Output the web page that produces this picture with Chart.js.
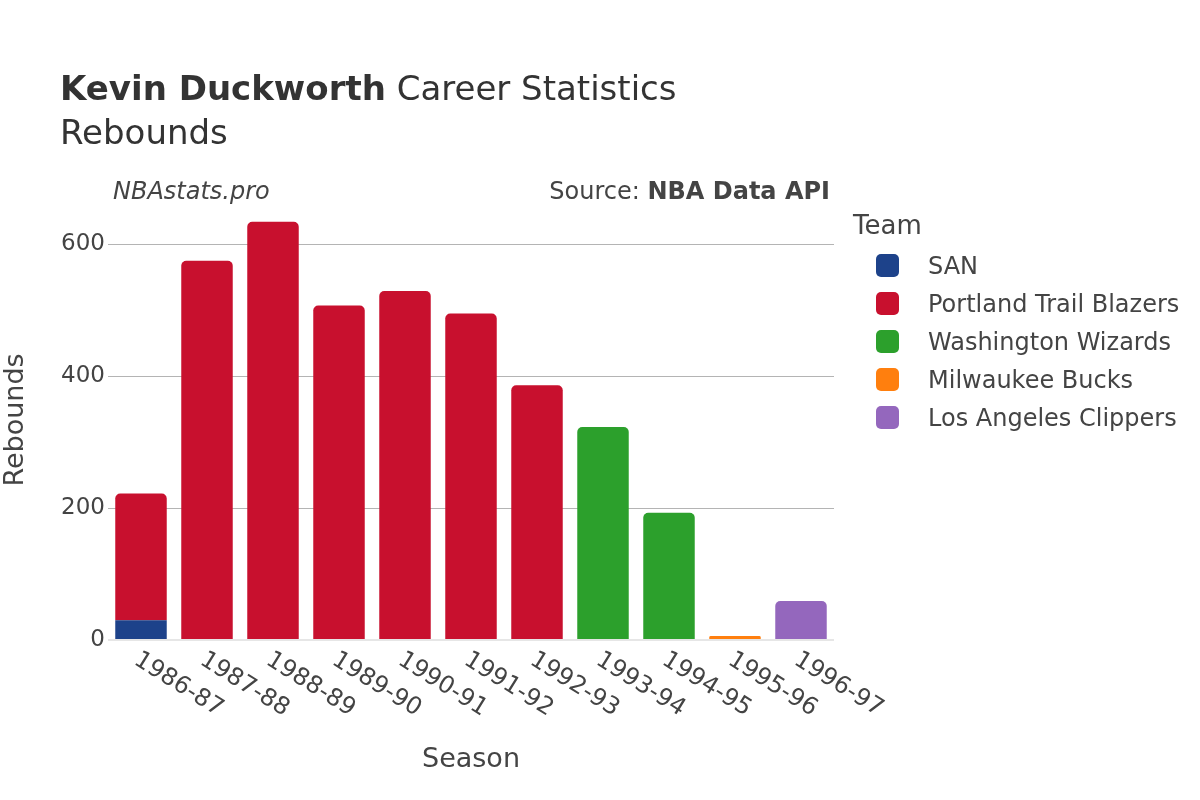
<!DOCTYPE html>
<html>
<head>
<meta charset="utf-8">
<script src="https://cdn.jsdelivr.net/npm/chart.js@4"></script>
<style>
  html, body { margin:0; padding:0; background:#fff; }
  body { width:1200px; height:800px; position:relative; overflow:hidden; font-family:"DejaVu Sans", sans-serif; color:#444; }
  #wrap { position:absolute; left:0; top:0; width:1200px; height:800px; }
  .txt { position:absolute; white-space:nowrap; line-height:1; }
  #title1 { left:60px; top:71px; font-size:34px; color:#333; }
  #title2 { left:60px; top:115px; font-size:34px; color:#333; }
  #brand { left:113px; top:179px; font-size:24px; font-style:italic; }
  #source { right:370px; top:179px; font-size:24px; }
  #legend { position:absolute; left:853px; top:210px; width:347px; white-space:nowrap; }
  #legend .ttl { font-size:26px; line-height:30px; margin-bottom:11px; color:#444; }
  #legend .item { position:relative; height:38px; }
  #legend .box { position:absolute; left:23px; top:3px; width:23px; height:23px; border-radius:5px; }
  #legend .lbl { position:absolute; left:75px; top:0; font-size:24px; line-height:30px; white-space:nowrap; }
</style>
</head>
<body>
<div id="wrap"><canvas id="chart" width="1200" height="800"></canvas></div>
<div class="txt" id="title1"><b>Kevin Duckworth</b> Career Statistics</div>
<div class="txt" id="title2">Rebounds</div>
<div class="txt" id="brand">NBAstats.pro</div>
<div class="txt" id="source">Source: <b>NBA Data API</b></div>
<div id="legend"></div>

<script>
'use strict';

/* ─── Data ──────────────────────────────────────────────────────── */
const seasons = ['1986-87','1987-88','1988-89','1989-90','1990-91','1991-92',
                 '1992-93','1993-94','1994-95','1995-96','1996-97'];

const teams      = ['SAN', 'Portland Trail Blazers', 'Washington Wizards', 'Milwaukee Bucks', 'Los Angeles Clippers'];
const teamColors = ['#1d428a', '#c8102e', '#2ca02c', '#ff7f0e', '#9467bd'];

const sanReb        = [30,  null, null, null, null, null, null, null, null, null, null];
const portlandReb   = [192, 575,  634,  507,  529,  495,  386,  null, null, null, null];
const washingtonReb = [null,null, null, null, null, null, null, 323,  193,  null, null];
const milwaukeeReb  = [null,null, null, null, null, null, null, null, null, 6,    null];
const clippersReb   = [null,null, null, null, null, null, null, null, null, null, 59];

const yTicks = [0, 200, 400, 600];
const yMax   = 667;

const series = [sanReb, portlandReb, washingtonReb, milwaukeeReb, clippersReb];

/* ─── Helpers ───────────────────────────────────────────────────── */
const FONT = '"DejaVu Sans", sans-serif';

// only the topmost segment of a stack gets rounded corners
function topRadius(ctx) {
  const i = ctx.dataIndex;
  for (let d = ctx.datasetIndex + 1; d < series.length; d++) {
    if (series[d][i] != null) return 0;
  }
  return 5;
}

/* angled season labels, text starting at the tick and running down-right */
const angledTicks = {
  id: 'angledTicks',
  afterDraw(chart) {
    const x = chart.scales.x, c = chart.ctx;
    c.save();
    c.font = '24px ' + FONT;
    c.fillStyle = '#444';
    c.textAlign = 'left';
    c.textBaseline = 'middle';
    seasons.forEach((s, i) => {
      const px = x.getPixelForValue(i);
      c.save();
      c.translate(px - 5, chart.chartArea.bottom + 18);
      c.rotate(32 * Math.PI / 180);
      c.fillText(s, 0, 0);
      c.restore();
    });
    c.restore();
  }
};

/* ─── Legend (HTML) ─────────────────────────────────────────────── */
(function buildLegend() {
  const lg = document.getElementById('legend');
  lg.innerHTML = '<div class="ttl">Team</div>' + teams.map((t, i) =>
    `<div class="item"><span class="box" style="background:${teamColors[i]}"></span><span class="lbl">${t}</span></div>`
  ).join('');
})();

/* ─── Chart ─────────────────────────────────────────────────────── */
new Chart(document.getElementById('chart'), {
  type: 'bar',
  data: {
    labels: seasons,
    datasets: teams.map((t, i) => ({
      label          : t,
      data           : series[i],
      backgroundColor: teamColors[i],
      borderRadius   : topRadius,
      borderSkipped  : 'start',
      barPercentage  : 0.78,
      categoryPercentage: 1.0,
    }))
  },
  options: {
    responsive: false,
    animation : false,
    devicePixelRatio: 1,
    layout: { padding: { top: 200, right: 366, bottom: 0, left: 0 } },
    plugins: {
      legend : { display: false },
      title  : { display: false },
      tooltip: { enabled: false }
    },
    scales: {
      x: {
        stacked: true,
        grid   : { display: false },
        border : { display: false },
        ticks  : { display: false },
        title  : { display: true, text: 'Season', color: '#444',
                   font: { family: FONT, size: 27 }, padding: { top: 0, bottom: 24 } },
        afterFit: s => { s.height = 160; }
      },
      y: {
        stacked: true,
        min: 0, max: yMax,
        afterBuildTicks: s => { s.ticks = yTicks.map(v => ({ value: v })); },
        grid  : {
          drawTicks: false,
          color    : c => c.tick && c.tick.value === 0 ? '#e6e6e6' : '#b4b4b4',
          lineWidth: c => c.tick && c.tick.value === 0 ? 2 : 1
        },
        border: { display: false },
        ticks : { color: '#444', padding: 3, font: { family: FONT, size: 23 } },
        title : { display: true, text: 'Rebounds', color: '#444',
                  font: { family: FONT, size: 27 }, padding: { top: 0, bottom: 0 } },
        afterFit: s => { s.width = 108; }
      }
    }
  },
  plugins: [angledTicks]
});
</script>
</body>
</html>
